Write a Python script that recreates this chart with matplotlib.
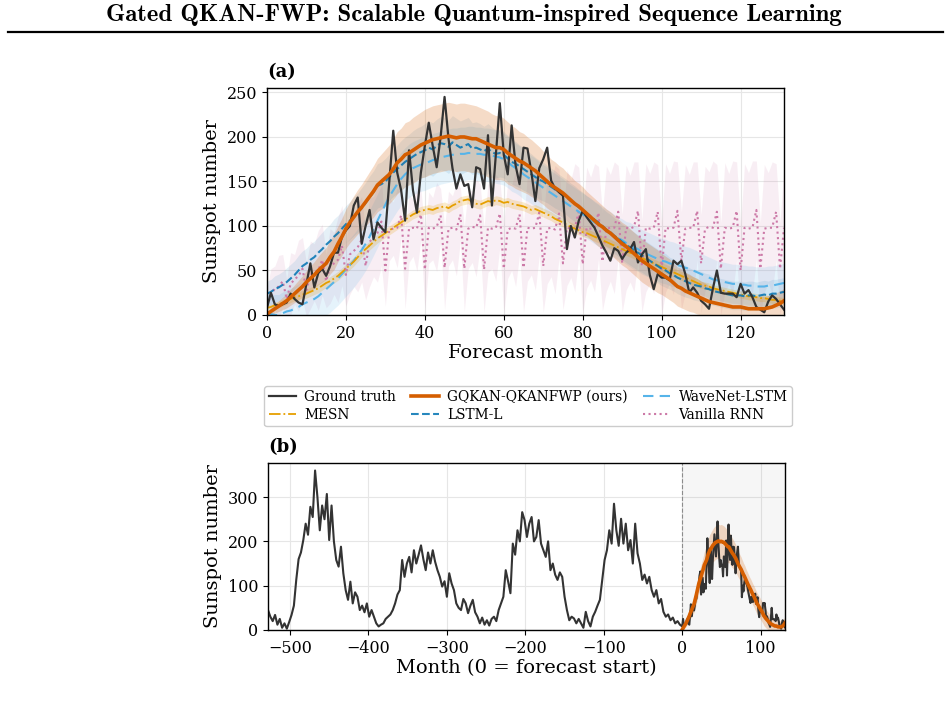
import numpy as np
import matplotlib
matplotlib.use("Agg")
import matplotlib.pyplot as plt
from matplotlib.lines import Line2D

plt.rcParams['font.family'] = 'serif'
plt.rcParams['font.serif'] = ['DejaVu Serif']

# ---- panel (a): 132 forecast months ----
gt_a = [8, 25, 12, 10, 12, 14, 24, 18, 14, 12,
        35, 58, 31, 47, 52, 44, 55, 70, 70, 88,
        95, 100, 123, 132, 80, 100, 118, 85, 104, 98,
        93, 150, 207, 160, 140, 106, 185, 140, 115, 160,
        190, 216, 190, 166, 200, 245, 198, 165, 142, 158,
        145, 147, 121, 166, 164, 142, 202, 123, 180, 238,
        180, 158, 213, 168, 147, 188, 187, 160, 128, 165,
        175, 188, 151, 142, 138, 134, 74, 100, 87, 106,
        117, 110, 104, 98, 88, 78, 70, 61, 75, 72,
        63, 70, 74, 82, 59, 68, 74, 45, 29, 46,
        42, 42, 39, 61, 57, 61, 46, 25, 31, 25,
        16, 12, 7, 30, 50, 25, 24, 24, 24, 20,
        35, 24, 28, 20, 9, 6, 3, 15, 22, 18,
        12, 6]

ours_mean = [1, 4, 7, 10, 13, 16, 20, 24, 28, 32,
             37, 41, 45, 50, 54, 58, 65, 71, 80, 88,
             97, 104, 110, 116, 121, 127, 133, 139, 146, 150,
             154, 158, 164, 171, 175, 180, 182, 185, 188, 191,
             193, 195, 197, 198, 199, 200, 201, 200, 199, 200,
             200, 199, 198, 198, 196, 194, 192, 190, 188, 188,
             186, 182, 179, 176, 173, 171, 168, 165, 162, 158,
             154, 150, 146, 143, 140, 137, 133, 129, 125, 122,
             118, 114, 110, 106, 102, 99, 95, 92, 88, 84,
             80, 77, 73, 69, 65, 61, 58, 55, 52, 49,
             46, 43, 40, 36, 32, 30, 27, 25, 23, 21,
             19, 17, 15, 14, 13, 12, 11, 10, 9, 9,
             9, 8, 7, 7, 7, 7, 7, 8, 9, 11,
             13, 16]
ours_std = [2, 4, 5, 6, 7, 8, 9, 10, 11, 12,
            13, 14, 15, 16, 17, 18, 19, 20, 20, 21,
            22, 23, 24, 25, 26, 27, 28, 29, 30, 31,
            32, 33, 34, 35, 35, 36, 36, 37, 37, 37,
            38, 38, 38, 38, 38, 38, 38, 38, 38, 38,
            38, 38, 38, 37, 37, 37, 37, 36, 36, 36,
            35, 35, 34, 34, 33, 33, 32, 32, 31, 31,
            30, 30, 29, 29, 28, 28, 27, 27, 26, 26,
            26, 25, 25, 25, 25, 24, 24, 24, 24, 24,
            24, 24, 24, 24, 24, 24, 24, 24, 24, 24,
            23, 23, 23, 22, 22, 22, 21, 21, 20, 20,
            19, 19, 18, 18, 17, 17, 16, 16, 15, 15,
            15, 14, 14, 14, 14, 14, 14, 14, 14, 14,
            14, 14]

lstm_mean = [24, 26, 29, 31, 34, 37, 41, 45, 50, 55,
             58, 62, 65, 70, 74, 79, 83, 88, 92, 97,
             102, 106, 111, 115, 120, 126, 132, 138, 145, 147,
             150, 155, 160, 164, 168, 172, 175, 178, 181, 183,
             185, 188, 186, 190, 193, 192, 189, 194, 191, 188,
             190, 192, 187, 188, 186, 184, 187, 183, 181, 182,
             180, 176, 172, 170, 167, 164, 161, 158, 155, 152,
             150, 147, 144, 141, 138, 135, 132, 128, 125, 121,
             118, 114, 111, 107, 104, 100, 96, 93, 89, 86,
             82, 79, 76, 73, 70, 67, 64, 61, 58, 55,
             52, 50, 47, 45, 42, 40, 38, 36, 34, 33,
             32, 30, 29, 27, 26, 25, 24, 23, 22, 22,
             22, 21, 22, 22, 21, 22, 23, 22, 24, 24,
             25, 26]
lstm_std = [14, 14, 15, 15, 15, 16, 16, 16, 17, 17,
            17, 18, 18, 18, 19, 19, 19, 20, 20, 20,
            21, 21, 22, 22, 23, 23, 24, 24, 25, 25,
            26, 26, 27, 27, 28, 28, 28, 29, 29, 29,
            30, 30, 30, 30, 30, 30, 30, 30, 30, 30,
            30, 30, 29, 29, 29, 28, 28, 28, 27, 27,
            26, 26, 25, 25, 24, 24, 23, 23, 22, 22,
            22, 21, 21, 21, 20, 20, 20, 20, 20, 20,
            20, 20, 20, 20, 20, 20, 20, 20, 20, 20,
            20, 20, 20, 20, 20, 19, 19, 19, 19, 19,
            19, 19, 18, 18, 18, 18, 18, 17, 17, 17,
            17, 17, 17, 16, 16, 16, 16, 16, 16, 16,
            16, 16, 16, 16, 16, 16, 16, 16, 16, 16,
            16, 16]

wavenet_mean = [2, 1, 0, 0, 2, 4, 5, 7, 9, 12,
                14, 16, 18, 21, 25, 29, 33, 37, 41, 46,
                51, 56, 61, 67, 73, 80, 88, 97, 106, 115,
                124, 133, 140, 147, 153, 158, 162, 165, 167, 169,
                170, 172, 174, 175, 177, 178, 179, 180, 180, 181,
                181, 182, 182, 181, 181, 180, 180, 179, 178, 177,
                175, 172, 168, 165, 162, 158, 155, 152, 149, 146,
                143, 140, 137, 134, 131, 128, 125, 122, 119, 116,
                113, 110, 107, 104, 101, 98, 95, 92, 89, 86,
                84, 81, 79, 76, 74, 71, 69, 67, 65, 63,
                61, 60, 58, 57, 56, 55, 53, 52, 50, 48,
                46, 44, 42, 40, 39, 38, 37, 36, 35, 35,
                34, 34, 33, 33, 32, 32, 32, 33, 33, 34,
                35, 36]
wavenet_std = [22, 22, 23, 23, 24, 24, 25, 25, 26, 26,
               27, 27, 28, 28, 29, 29, 30, 30, 30, 30,
               30, 30, 30, 30, 30, 30, 30, 30, 30, 30,
               30, 30, 30, 30, 30, 30, 30, 30, 30, 30,
               30, 30, 30, 30, 30, 30, 30, 30, 30, 30,
               30, 30, 30, 30, 30, 30, 30, 30, 30, 30,
               29, 29, 29, 28, 28, 28, 27, 27, 27, 26,
               26, 26, 25, 25, 25, 25, 24, 24, 24, 24,
               24, 24, 24, 24, 24, 24, 24, 24, 24, 24,
               24, 24, 25, 25, 25, 25, 25, 25, 25, 25,
               25, 25, 25, 25, 24, 24, 24, 24, 24, 24,
               23, 23, 23, 23, 22, 22, 22, 22, 22, 22,
               22, 22, 22, 22, 22, 22, 22, 22, 22, 22,
               22, 22]

mesn_mean = [8, 9, 11, 12, 14, 16, 18, 20, 21, 23,
             24, 26, 28, 30, 33, 36, 38, 41, 44, 48,
             52, 56, 60, 65, 70, 74, 78, 82, 86, 89,
             92, 95, 98, 101, 104, 107, 110, 113, 115, 117,
             118, 119, 118, 120, 121, 122, 120, 123, 125, 128,
             129, 130, 127, 125, 124, 126, 128, 127, 129, 128,
             126, 127, 125, 124, 123, 122, 120, 118, 119, 117,
             115, 113, 111, 108, 106, 104, 101, 99, 97, 95,
             93, 92, 90, 88, 86, 84, 82, 80, 78, 76,
             74, 72, 70, 68, 66, 64, 62, 60, 58, 56,
             54, 52, 50, 48, 46, 44, 42, 40, 38, 36,
             34, 33, 32, 30, 29, 28, 27, 26, 25, 24,
             23, 22, 21, 21, 20, 19, 19, 18, 17, 17,
             16, 16]
mesn_std = [3, 3, 3, 4, 4, 4, 4, 4, 5, 5,
            5, 5, 5, 5, 5, 5, 5, 5, 5, 5,
            5, 5, 5, 5, 5, 5, 5, 5, 5, 5,
            5, 5, 5, 5, 5, 5, 5, 5, 5, 5,
            5, 5, 5, 5, 5, 5, 5, 5, 5, 5,
            5, 5, 5, 5, 5, 5, 5, 5, 5, 5,
            5, 5, 5, 5, 5, 5, 5, 5, 5, 5,
            5, 5, 5, 5, 5, 5, 5, 5, 5, 5,
            5, 5, 5, 5, 5, 5, 5, 5, 5, 5,
            5, 5, 5, 5, 5, 5, 5, 5, 5, 5,
            5, 5, 5, 5, 5, 5, 5, 5, 5, 5,
            4, 4, 4, 4, 4, 4, 4, 4, 4, 4,
            4, 4, 4, 4, 4, 4, 4, 4, 4, 4,
            4, 4]

rnn_mean = [10, 22, 30, 32, 38, 18, 35, 40, 44, 52,
            28, 45, 48, 50, 62, 38, 55, 58, 62, 78,
            45, 68, 72, 76, 85, 55, 82, 88, 92, 105,
            50, 96, 97, 98, 112, 52, 97, 98, 97, 113,
            51, 98, 97, 99, 112, 53, 97, 98, 96, 113,
            52, 97, 99, 98, 112, 51, 98, 97, 98, 114,
            52, 96, 98, 97, 113, 53, 98, 97, 98, 115,
            55, 97, 98, 96, 114, 58, 98, 97, 98, 116,
            57, 98, 97, 98, 115, 60, 97, 98, 98, 116,
            58, 98, 97, 99, 117, 55, 98, 97, 98, 116,
            52, 98, 97, 98, 117, 61, 97, 98, 98, 117,
            58, 97, 99, 98, 116, 52, 98, 97, 98, 117,
            50, 98, 97, 98, 118, 52, 97, 98, 98, 116,
            52, 98]
rnn_std = [20, 30, 25, 35, 30, 22, 35, 28, 40, 35,
           30, 38, 32, 45, 40, 30, 42, 35, 48, 45,
           35, 45, 40, 50, 48, 38, 50, 45, 55, 50,
           40, 35, 30, 45, 25, 45, 38, 32, 48, 28,
           45, 40, 35, 50, 30, 47, 42, 36, 52, 30,
           48, 45, 40, 55, 35, 48, 50, 45, 60, 38,
           50, 55, 48, 65, 45, 50, 60, 52, 70, 48,
           52, 62, 55, 72, 50, 52, 65, 55, 72, 50,
           55, 68, 58, 72, 52, 55, 70, 60, 74, 52,
           55, 70, 60, 73, 55, 52, 72, 62, 74, 53,
           52, 72, 62, 75, 55, 55, 72, 60, 74, 55,
           55, 70, 62, 75, 53, 52, 73, 62, 75, 55,
           50, 72, 63, 75, 55, 52, 72, 62, 74, 54,
           52, 70]

# ---- panel (b): history before forecast start, every 3 months from -528 ----
hist_vals = [45, 30, 20, 34, 12, 25, 5, 15, 3, 18,
             34, 55, 113, 160, 175, 203, 240, 215, 278, 255,
             360, 300, 225, 281, 250, 307, 203, 281, 200, 158,
             143, 188, 128, 90, 68, 109, 60, 85, 75, 45,
             55, 40, 60, 30, 45, 30, 15, 8, 12, 15,
             25, 30, 35, 45, 60, 80, 90, 158, 120, 150,
             165, 130, 180, 150, 170, 191, 160, 135, 175, 150,
             180, 154, 135, 120, 98, 110, 75, 128, 105, 90,
             60, 50, 45, 70, 60, 38, 55, 68, 40, 30,
             15, 28, 12, 22, 10, 25, 30, 20, 45, 60,
             75, 135, 110, 83, 195, 170, 225, 200, 266, 248,
             210, 240, 255, 200, 210, 248, 195, 180, 165, 200,
             135, 150, 125, 113, 130, 120, 75, 45, 22, 30,
             26, 15, 25, 15, 5, 41, 20, 8, 30, 41,
             55, 68, 113, 158, 180, 225, 195, 285, 225, 190,
             251, 195, 240, 180, 203, 150, 240, 173, 150, 113,
             125, 105, 120, 90, 75, 90, 60, 70, 41, 30,
             35, 22, 28, 15, 20, 12]
hist_start = -528

c_gt = '#333333'
c_ours = '#d55e00'
c_wave = '#56b4e9'
c_mesn = '#e69f00'
c_lstm = '#0072b2'
c_rnn = '#cc79a7'

months = np.arange(len(gt_a))

def band(ax, x, mean, std, color, alpha):
    mean = np.array(mean, dtype=float)
    std = np.array(std, dtype=float)
    ax.fill_between(x, mean - std, mean + std, color=color, alpha=alpha, lw=0)

fig = plt.figure(figsize=(9.48, 7.19), dpi=100)

# page header
fig.text(0.5, 1 - 15 / 719, 'Gated QKAN-FWP: Scalable Quantum-inspired Sequence Learning',
         family='cmb10', fontsize=17.8, ha='center', va='center')
fig.add_artist(Line2D([0.008, 0.995], [1 - 32 / 719] * 2, transform=fig.transFigure,
                      color='black', lw=1.6))

ax_a = fig.add_axes([0.2816, 0.5619, 0.5454, 0.3157])
ax_b = fig.add_axes([0.2827, 0.1238, 0.5454, 0.2323])

band(ax_a, months, rnn_mean, rnn_std, c_rnn, 0.12)
band(ax_a, months, wavenet_mean, wavenet_std, c_wave, 0.15)
band(ax_a, months, lstm_mean, lstm_std, c_lstm, 0.10)
band(ax_a, months, mesn_mean, mesn_std, c_mesn, 0.2)
band(ax_a, months, ours_mean, ours_std, c_ours, 0.22)

ax_a.plot(months, rnn_mean, color=c_rnn, ls=':', lw=1.5, label='Vanilla RNN')
ax_a.plot(months, wavenet_mean, color=c_wave, ls=(0, (5, 3)), lw=1.5, label='WaveNet-LSTM')
ax_a.plot(months, mesn_mean, color=c_mesn, ls='-.', lw=1.3, label='MESN')
ax_a.plot(months, lstm_mean, color=c_lstm, ls='--', lw=1.5, alpha=0.85, label='LSTM-L')
ax_a.plot(months, gt_a, color=c_gt, lw=1.6, label='Ground truth')
ax_a.plot(months, ours_mean, color=c_ours, lw=2.6, label='GQKAN-QKANFWP (ours)')

ax_a.set_xlim(0, 131)
ax_a.set_ylim(0, 255)
ax_a.set_yticks([0, 50, 100, 150, 200, 250])
ax_a.set_xticks([0, 20, 40, 60, 80, 100, 120])
ax_a.set_xlabel('Forecast month', fontsize=14, labelpad=2)
ax_a.set_ylabel('Sunspot number', fontsize=14, labelpad=4)
ax_a.set_title('(a)', loc='left', fontweight='bold', fontsize=13, pad=8)

# panel (b)
hist_x = hist_start + 3 * np.arange(len(hist_vals))
all_x = np.concatenate([hist_x, months])
all_y = np.concatenate([hist_vals, gt_a])
ax_b.axvspan(0, 131, color='0.5', alpha=0.07, lw=0)
ax_b.axvline(0, color='0.55', ls='--', lw=0.8)
band(ax_b, months, ours_mean, ours_std, c_ours, 0.22)
ax_b.plot(all_x, all_y, color=c_gt, lw=1.5)
ax_b.plot(months, ours_mean, color=c_ours, lw=2.6)
ax_b.set_xlim(-528, 131)
ax_b.set_ylim(0, 377)
ax_b.set_xticks([-500, -400, -300, -200, -100, 0, 100])
ax_b.set_yticks([0, 100, 200, 300])
ax_b.set_xlabel('Month (0 = forecast start)', fontsize=14, labelpad=2)
ax_b.set_ylabel('Sunspot number', fontsize=14, labelpad=4)
ax_b.set_title('(b)', loc='left', fontweight='bold', fontsize=13, pad=8)

for ax in (ax_a, ax_b):
    ax.grid(True, color='0.9', lw=0.8)
    ax.set_axisbelow(True)
    ax.tick_params(labelsize=11.5, length=3.5, width=0.8)
    for s in ax.spines.values():
        s.set_linewidth(1.0)

h, l = ax_a.get_legend_handles_labels()
order = ['Ground truth', 'MESN', 'GQKAN-QKANFWP (ours)', 'LSTM-L', 'WaveNet-LSTM', 'Vanilla RNN']
hd = dict(zip(l, h))
fig.legend([hd[k] for k in order], order, loc='upper center',
           bbox_to_anchor=(528 / 948, 1 - 386 / 719), ncol=3, fontsize=9.9,
           labelspacing=0.3, borderpad=0.3, columnspacing=1.1, handlelength=2.0,
           handletextpad=0.6, borderaxespad=0, framealpha=1, edgecolor='0.8')

fig.savefig('out.png', dpi=100)
